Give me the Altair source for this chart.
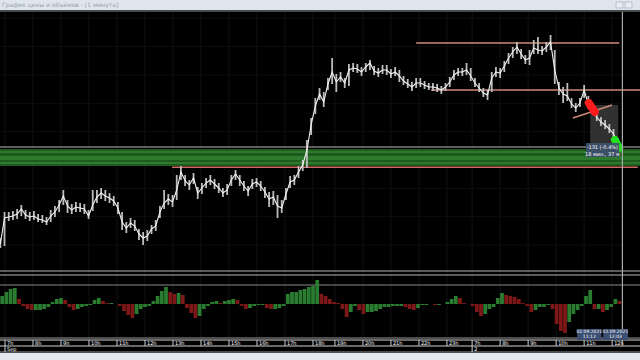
import altair as alt
import pandas as pd

# ---------------- data ----------------
# trading-minute index (0 = 07:00, 1 Sep 2021); one sample every 9 minutes
bar_idx = list(range(-10, -10 + 9 * 148, 9))

close_p = [32268, 32346, 32349, 32352, 32358, 32373, 32355, 32349, 32352, 32343,
           32340, 32334, 32352, 32364, 32385, 32412, 32382, 32370, 32379, 32376,
           32373, 32352, 32385, 32409, 32421, 32412, 32406, 32397, 32376, 32334,
           32316, 32331, 32322, 32298, 32286, 32292, 32313, 32322, 32364, 32391,
           32403, 32394, 32430, 32484, 32457, 32445, 32466, 32421, 32436, 32451,
           32460, 32448, 32436, 32421, 32430, 32460, 32478, 32460, 32442, 32427,
           32448, 32454, 32442, 32424, 32403, 32409, 32382, 32376, 32418, 32454,
           32460, 32484, 32505, 32550, 32625, 32682, 32718, 32694, 32748, 32784,
           32754, 32769, 32751, 32790, 32796, 32793, 32784, 32799, 32811, 32787,
           32781, 32790, 32790, 32778, 32784, 32772, 32757, 32748, 32739, 32751,
           32751, 32745, 32739, 32739, 32736, 32730, 32739, 32754, 32775, 32784,
           32784, 32790, 32772, 32751, 32736, 32721, 32715, 32766, 32784, 32781,
           32802, 32826, 32844, 32859, 32838, 32820, 32826, 32856, 32850, 32847,
           32859, 32874, 32790, 32736, 32718, 32712, 32688, 32676, 32691, 32730,
           32688, 32670, 32649, 32634, 32625, 32613, 32598, 32565]
high_p = [32286, 32364, 32364, 32367, 32373, 32385, 32370, 32364, 32367, 32358,
          32355, 32349, 32370, 32382, 32400, 32430, 32400, 32388, 32394, 32391,
          32388, 32370, 32430, 32430, 32436, 32430, 32421, 32412, 32394, 32364,
          32334, 32346, 32340, 32313, 32304, 32310, 32325, 32340, 32382, 32430,
          32418, 32415, 32475, 32502, 32475, 32460, 32481, 32439, 32451, 32466,
          32475, 32463, 32451, 32436, 32448, 32475, 32490, 32475, 32457, 32442,
          32463, 32466, 32457, 32439, 32424, 32427, 32415, 32400, 32436, 32472,
          32475, 32502, 32520, 32580, 32646, 32706, 32736, 32724, 32766, 32826,
          32778, 32784, 32766, 32808, 32811, 32808, 32799, 32811, 32820, 32802,
          32796, 32805, 32805, 32793, 32799, 32790, 32772, 32763, 32754, 32766,
          32766, 32757, 32751, 32751, 32748, 32742, 32751, 32769, 32790, 32796,
          32796, 32811, 32796, 32766, 32751, 32736, 32730, 32784, 32799, 32796,
          32817, 32841, 32859, 32874, 32853, 32835, 32850, 32880, 32889, 32862,
          32874, 32895, 32850, 32754, 32739, 32751, 32706, 32691, 32706, 32745,
          32712, 32688, 32664, 32649, 32640, 32628, 32613, 32586]
low_p = [32256, 32262, 32337, 32340, 32343, 32352, 32343, 32337, 32340, 32334,
         32331, 32325, 32334, 32349, 32364, 32385, 32361, 32358, 32364, 32364,
         32358, 32343, 32367, 32391, 32403, 32397, 32391, 32382, 32358, 32310,
         32301, 32316, 32307, 32280, 32265, 32277, 32298, 32307, 32346, 32373,
         32385, 32379, 32400, 32460, 32442, 32430, 32448, 32403, 32418, 32436,
         32445, 32433, 32421, 32409, 32415, 32442, 32460, 32442, 32427, 32412,
         32433, 32439, 32427, 32406, 32379, 32385, 32346, 32361, 32400, 32436,
         32445, 32466, 32487, 32496, 32595, 32658, 32700, 32679, 32730, 32748,
         32724, 32754, 32736, 32742, 32784, 32781, 32772, 32784, 32790, 32775,
         32769, 32778, 32775, 32766, 32772, 32754, 32745, 32736, 32727, 32736,
         32739, 32733, 32730, 32727, 32724, 32718, 32727, 32739, 32760, 32772,
         32772, 32775, 32757, 32739, 32724, 32709, 32700, 32724, 32769, 32766,
         32784, 32808, 32826, 32838, 32823, 32808, 32805, 32838, 32838, 32835,
         32844, 32850, 32748, 32715, 32691, 32697, 32676, 32664, 32679, 32706,
         32673, 32658, 32637, 32622, 32613, 32601, 32583, 32550]
osc_vals = [8, 12, 15, 16, 5, -2, -5, -6, -6, -6,
            -5, -3, 2, 5, 6, 4, -3, -6, -5, -3,
            -2, -1, 4, 6, 3, 1, 1, 0, -2, -7,
            -11, -14, -10, -5, -3, -2, 3, 8, 13, 17,
            12, 10, 11, 9, -4, -9, -14, -12, -5, -2,
            2, 3, 1, 3, 4, 5, 4, -2, -5, -4,
            -2, -1, -1, -4, -5, -5, -4, -2, 10, 12,
            12, 14, 15, 17, 18, 24, 10, 8, 5, 2,
            1, -5, -13, -8, -2, -6, -10, -8, -8, -7,
            -5, -3, -3, -2, -2, -2, -3, -5, -6, -4,
            -1, -1, 0, -1, -1, 0, 2, 5, 8, 6,
            1, 0, -2, -8, -12, -10, -5, -3, 6, 11,
            9, 8, 7, 5, 1, -2, -8, -6, -3, -3,
            -1, -5, -20, -27, -29, -18, -10, -6, -2, 8,
            14, -5, -5, -8, -6, -3, 5, 3]

hour_labels = ["7h", "8h", "9h", "10h", "11h", "12h", "13h", "14h", "15h", "16h",
               "17h", "18h", "19h", "20h", "21h", "22h", "23h", "7h", "8h", "9h",
               "10h", "11h", "12h"]
hour_bars = [0, 60, 120, 180, 240, 300, 360, 420, 480, 540,
             600, 660, 707, 767, 827, 887, 947, 1001, 1061, 1121,
             1181, 1241, 1301]
day_labels = ["Sep", "2"]
day_bars = [0, 1001]

grid_prices = [32945, 32860, 32775, 32690, 32605, 32520, 32435, 32350, 32265]

level_price = [32871, 32730, 32498]
level_start = [881, 913, 358]
level_end = [1316, 1361, 1356]
level_color = ["#cf8a76", "#cf8a76", "#d46a62"]

trend_bar = [1217, 1301]
trend_price = [32646, 32685]

band_low, band_high, band_edge = 32502, 32553, 32559
band_lines = [32544, 32529, 32523, 32511]

title_text = "График цены и объёмов - [1 минута]"
measure_text = ["-131 (-0.4%)", "18 мин., 37 м"]
time_tips = [["02.09.2021", "11:12"], ["02.09.2021", "12:03"]]

# ---------------- scales ----------------
XS = alt.Scale(domain=[-10.7, 1360.7], range=[0, 640], nice=False, zero=False)
PS = alt.Scale(domain=[32190, 32964], range=[270, 12], nice=False, zero=False)
OS = alt.Scale(domain=[-31, 19], range=[335, 285], nice=False, zero=False)


def X(f):
    return alt.X(f, type="quantitative", scale=XS, axis=None)


def PY(f):
    return alt.Y(f, type="quantitative", scale=PS, axis=None)


one = alt.Chart(pd.DataFrame({"v": [0]}))
FONT = "DejaVu Sans"

price_df = pd.DataFrame({"b": bar_idx, "c": close_p, "h": high_p, "l": low_p})
osc_df = pd.DataFrame({"b": bar_idx, "v": osc_vals})
osc_df["b2"] = osc_df["b"] + 8
osc_df["z"] = 0
osc_df["dir"] = ["up" if (i == 0 or osc_vals[i] >= osc_vals[i - 1]) else "down"
                 for i in range(len(osc_vals))]
hour_df = pd.DataFrame({"b": hour_bars, "t": hour_labels})
day_df = pd.DataFrame({"b": day_bars, "t": day_labels})
lvl_df = pd.DataFrame({"p": level_price, "s": level_start, "e": level_end, "col": level_color})

layers = []

# title bar
layers.append(one.mark_rect(color="#dfe5ec").encode(
    x=alt.value(0), x2=alt.value(640), y=alt.value(0), y2=alt.value(10)))
layers.append(one.mark_rect(color="#4a4a4a").encode(
    x=alt.value(0), x2=alt.value(640), y=alt.value(10), y2=alt.value(12)))
layers.append(one.mark_text(text=title_text, align="left", baseline="middle",
                            fontSize=6, font=FONT, color="#9aa2ad").encode(
    x=alt.value(2), y=alt.value(5)))
for xa in (616, 625):
    layers.append(one.mark_rect(fill="#e8edf2", stroke="#a7b0bb", strokeWidth=0.7).encode(
        x=alt.value(xa), x2=alt.value(xa + 7), y=alt.value(2), y2=alt.value(8)))

# grid
layers.append(alt.Chart(hour_df).mark_rule(color="#121212", strokeWidth=1).encode(
    x=X("b"), y=alt.value(12), y2=alt.value(338)))
layers.append(alt.Chart(pd.DataFrame({"p": grid_prices})).mark_rule(
    color="#0e0e0e", strokeWidth=1).encode(
    y=PY("p"), x=alt.value(0), x2=alt.value(622)))

# green zone
band_df = pd.DataFrame({"lo": [band_low], "hi": [band_high], "edge": [band_edge]})
layers.append(alt.Chart(band_df).mark_rect(color="#1f5a1f").encode(
    y=PY("lo"), y2="hi", x=alt.value(0), x2=alt.value(640)))
layers.append(alt.Chart(pd.DataFrame({"p": band_lines})).mark_rule(
    color="#3f9c3f", strokeWidth=1).encode(y=PY("p"), x=alt.value(0), x2=alt.value(640)))
layers.append(alt.Chart(band_df).mark_rule(color="#b8b8b8", strokeWidth=1.2).encode(
    y=PY("edge"), x=alt.value(0), x2=alt.value(640)))

# horizontal levels
layers.append(alt.Chart(lvl_df).mark_rule(strokeWidth=1.5).encode(
    y=PY("p"), x=X("s"), x2="e",
    color=alt.Color("col:N", scale=None)))

# measurement box
layers.append(alt.Chart(pd.DataFrame({"b": [1254], "b2": [1314], "p": [32685], "p2": [32559]}))
              .mark_rect(color="#3a3a3a", opacity=0.85).encode(
    x=X("b"), x2="b2", y=PY("p"), y2="p2"))

# price bars
layers.append(alt.Chart(price_df).mark_rule(color="#bdbdbd", strokeWidth=1.8).encode(
    x=X("b"), y=PY("l"), y2="h"))
layers.append(alt.Chart(price_df).mark_line(color="#f2f2f2", strokeWidth=1.1).encode(
    x=X("b"), y=PY("c")))

# trend line
layers.append(alt.Chart(pd.DataFrame({"b": trend_bar, "p": trend_price})).mark_line(
    color="#cf8a76", strokeWidth=1.5).encode(x=X("b"), y=PY("p")))

# measurement markers
layers.append(alt.Chart(pd.DataFrame({"b": [1251, 1264], "p": [32691, 32664]})).mark_line(
    color="#ff1c1c", strokeWidth=8, strokeCap="round").encode(x=X("b"), y=PY("p")))
layers.append(alt.Chart(pd.DataFrame({"b": [1307, 1316], "p": [32580, 32556]})).mark_line(
    color="#22e022", strokeWidth=8, strokeCap="round").encode(x=X("b"), y=PY("p")))

# measurement tooltip
layers.append(alt.Chart(pd.DataFrame({"b": [1245], "b2": [1316], "p": [32571], "p2": [32529]}))
              .mark_rect(color="#3d4f6c", opacity=0.95).encode(
    x=X("b"), x2="b2", y=PY("p"), y2="p2"))
layers.append(alt.Chart(pd.DataFrame({"b": [1280, 1280], "p": [32558, 32539], "t": measure_text}))
              .mark_text(color="#ffffff", fontSize=5, font=FONT, baseline="middle").encode(
    x=X("b"), y=PY("p"), text="t:N"))

# separators between panels
for yy, col in ((271, "#b5b5b5"), (275, "#b5b5b5"), (285, "#8a8a8a")):
    layers.append(one.mark_rule(color=col, strokeWidth=1).encode(
        x=alt.value(0), x2=alt.value(640), y=alt.value(yy)))

# oscillator
layers.append(alt.Chart(osc_df).mark_rect().encode(
    x=X("b"), x2="b2",
    y=alt.Y("v:Q", scale=OS, axis=None), y2="z",
    color=alt.Color("dir:N", scale=alt.Scale(domain=["up", "down"],
                                              range=["#2a7d30", "#7e1818"]), legend=None)))

# time axis
for yy, col in ((338, "#9a9a9a"), (340, "#d0d0d0"), (346, "#d0d0d0"), (352, "#9a9a9a")):
    layers.append(one.mark_rule(color=col, strokeWidth=1).encode(
        x=alt.value(0), x2=alt.value(640), y=alt.value(yy)))
layers.append(alt.Chart(hour_df).mark_rule(color="#d0d0d0", strokeWidth=1).encode(
    x=X("b"), y=alt.value(340), y2=alt.value(346)))
layers.append(alt.Chart(hour_df).mark_text(color="#ffffff", fontSize=5, font=FONT,
                                           align="left", baseline="middle", dx=2).encode(
    x=X("b"), y=alt.value(343.2), text="t:N"))
layers.append(alt.Chart(day_df).mark_rule(color="#d0d0d0", strokeWidth=1).encode(
    x=X("b"), y=alt.value(346), y2=alt.value(352)))
layers.append(alt.Chart(day_df).mark_text(color="#ffffff", fontSize=5, font=FONT,
                                          align="left", baseline="middle", dx=2).encode(
    x=X("b"), y=alt.value(349.2), text="t:N"))

# crosshair
layers.append(alt.Chart(pd.DataFrame({"b": [1323]})).mark_rule(
    color="#a8a8a8", strokeWidth=1.2).encode(x=X("b"), y=alt.value(12), y2=alt.value(346)))

# bottom time tooltips
tip_df = pd.DataFrame({"b": [1226, 1282], "b2": [1278, 1335]})
layers.append(alt.Chart(tip_df).mark_rect(color="#3b4f73").encode(
    x=X("b"), x2="b2", y=alt.value(329), y2=alt.value(340)))
tip_txt = pd.DataFrame({"b": [1252, 1252, 1308, 1308],
                        "row": [0, 1, 0, 1],
                        "t": [time_tips[0][0], time_tips[0][1], time_tips[1][0], time_tips[1][1]]})
layers.append(alt.Chart(tip_txt[tip_txt.row == 0]).mark_text(
    color="#ffffff", fontSize=4.5, font=FONT, baseline="middle").encode(
    x=X("b"), y=alt.value(332), text="t:N"))
layers.append(alt.Chart(tip_txt[tip_txt.row == 1]).mark_text(
    color="#ffffff", fontSize=4.5, font=FONT, baseline="middle").encode(
    x=X("b"), y=alt.value(337), text="t:N"))

# bottom bar
layers.append(one.mark_rect(color="#e3e8ee").encode(
    x=alt.value(0), x2=alt.value(640), y=alt.value(353), y2=alt.value(360)))

chart = (alt.layer(*layers)
         .resolve_scale(y="independent", color="independent")
         .properties(width=640, height=360, padding=0, autosize="none", background="#000000")
         .configure_view(strokeWidth=0))

chart.save("out.html", embed_options={"renderer": "svg", "actions": False})
